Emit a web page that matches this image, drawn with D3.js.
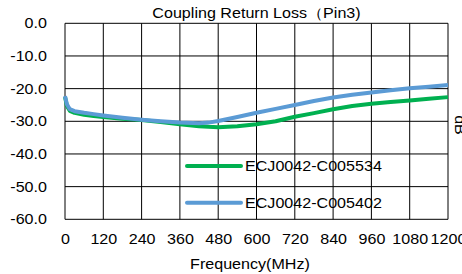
<!DOCTYPE html>
<html>
<head>
<meta charset="utf-8">
<script src="https://cdn.jsdelivr.net/npm/d3@7"></script>
<style>
  body { margin: 0; background: #fff; }
  svg { display: block; font-family: "Liberation Sans", Arial, sans-serif; }
</style>
</head>
<body>
<div id="chart"></div>
<script>
const freqs = [0, 6, 15, 30, 60, 90, 120, 180, 240, 300, 360, 420, 450, 480, 540, 600, 660, 720, 780, 840, 900, 960, 1020, 1080, 1140, 1200];
const green = [-22.5, -25.3, -26.8, -27.4, -28.0, -28.4, -28.7, -29.2, -29.6, -30.2, -30.9, -31.5, -31.7, -31.8, -31.5, -30.9, -30.0, -28.6, -27.5, -26.3, -25.3, -24.6, -24.1, -23.6, -23.1, -22.6];
const blue = [-22.3, -24.8, -26.3, -26.9, -27.4, -27.8, -28.2, -28.9, -29.5, -30.0, -30.4, -30.6, -30.4, -29.9, -28.7, -27.4, -26.2, -25.0, -23.8, -22.7, -21.9, -21.2, -20.5, -19.9, -19.4, -18.9];
const seriesNames = ["ECJ0042-C005534", "ECJ0042-C005402"];
const xTicks = [0, 120, 240, 360, 480, 600, 720, 840, 960, 1080, 1200];
const yTicks = [0, -10, -20, -30, -40, -50, -60];

const w = 462, h = 274;
const padL = 65, padR = 448, padT = 23.3, padB = 219.3;
const fs = 14, sx = 1.15; // text is a bit wider than tall in the source

const svg = d3.select("#chart").append("svg")
  .attr("width", w).attr("height", h);

const x = d3.scaleLinear().domain([0, 1200]).range([padL, padR]);
const y = d3.scaleLinear().domain([-60, 0]).range([padB, padT]);

// grid
svg.append("g").selectAll("line").data(xTicks).enter().append("line")
  .attr("x1", d => x(d)).attr("x2", d => x(d))
  .attr("y1", padT).attr("y2", padB)
  .attr("stroke", "#000").attr("stroke-width", 1);
svg.append("g").selectAll("line").data(yTicks).enter().append("line")
  .attr("x1", padL).attr("x2", padR)
  .attr("y1", d => y(d)).attr("y2", d => y(d))
  .attr("stroke", "#000").attr("stroke-width", 1);

// axes labels (no tick marks)
const yAxis = d3.axisLeft(y).tickValues(yTicks).tickSize(0).tickPadding(0).tickFormat(d => d.toFixed(1));
svg.append("g").attr("transform", "translate(" + (padL - 18) + ",0)").call(yAxis)
  .call(g => g.select(".domain").remove())
  .selectAll("text").attr("x", 0).attr("font-size", fs).attr("fill", "#000")
  .attr("font-family", "Liberation Sans, Arial").attr("transform", "scale(" + sx + ",1)");

const xAxis = d3.axisBottom(x).tickValues(xTicks).tickSize(0).tickPadding(15).tickFormat(d => String(d));
svg.append("g").attr("transform", "translate(0," + padB + ")").call(xAxis)
  .call(g => g.select(".domain").remove())
  .selectAll("text").attr("font-size", fs).attr("fill", "#000")
  .attr("font-family", "Liberation Sans, Arial").attr("transform", "scale(" + sx + ",1)");

// curves
const line = d3.line().x((d, i) => x(freqs[i])).y(d => y(d));
svg.append("path").datum(green).attr("d", line)
  .attr("fill", "none").attr("stroke", "#00b050").attr("stroke-width", 4).attr("stroke-linejoin", "round");
svg.append("path").datum(blue).attr("d", line)
  .attr("fill", "none").attr("stroke", "#5b9bd5").attr("stroke-width", 4).attr("stroke-linejoin", "round");

function label(px, py, txt, anchor, rot) {
  svg.append("text")
    .attr("transform", "translate(" + px + "," + py + ")" + (rot ? " rotate(" + rot + ")" : "") + " scale(" + sx + ",1)")
    .attr("text-anchor", anchor).attr("font-size", fs).attr("fill", "#000")
    .text(txt);
}

// legend
[{name: seriesNames[0], color: "#00b050", yy: 166}, {name: seriesNames[1], color: "#5b9bd5", yy: 202.7}].forEach(s => {
  svg.append("line")
    .attr("x1", 187).attr("x2", 241).attr("y1", s.yy).attr("y2", s.yy)
    .attr("stroke", s.color).attr("stroke-width", 4).attr("stroke-linecap", "round");
  label(245, s.yy + 5, s.name, "start");
});

label(256.5, 18, "Coupling Return Loss\uFF08Pin3)", "middle");
label(250, 269, "Frequency(MHz)", "middle");
label(455, 125, "dB", "middle", 90);
</script>
</body>
</html>
